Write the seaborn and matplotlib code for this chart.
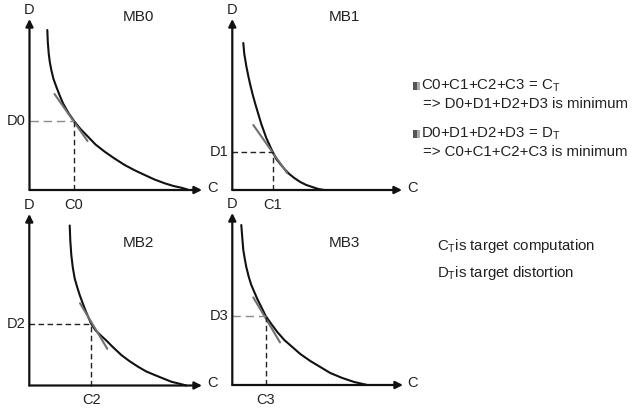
import matplotlib
matplotlib.use("Agg")
import matplotlib.pyplot as plt
from matplotlib.patches import Rectangle
import seaborn as sns
import pandas as pd

sns.set_theme(style="white")
plt.rcParams["font.family"] = ["Liberation Sans", "DejaVu Sans"]
plt.rcParams["mathtext.fontset"] = "custom"
plt.rcParams["mathtext.rm"] = "Liberation Sans"
plt.rcParams["mathtext.it"] = "Liberation Sans:italic"

# ---------------- data ----------------
panels = ["MB0", "MB1", "MB2", "MB3"]

mb0_c = [17.8, 18.3, 19.2, 20.3, 21.8, 24, 26.8, 30, 33.5, 39, 44.5, 51, 58.5, 66,
         75.2, 85, 95.2, 105, 115.2, 125, 135.2, 144, 151.8, 158]
mb0_d = [160, 148, 136.7, 128, 120, 111, 103.3, 95, 86.7, 77, 69, 61, 53.3, 45.5,
         38.3, 31.5, 25, 19.8, 15, 10.5, 6.7, 4, 2.3, 0.5]

mb1_c = [11, 12, 14, 16, 18, 20.5, 23, 26, 29, 34, 40.4, 44, 48, 53, 57, 62, 68, 74, 80, 86, 92]
mb1_d = [147, 136, 124, 114, 105, 95, 86, 76, 66, 52, 38, 31, 26, 20, 16, 12, 8, 5, 3, 1, 0]

mb2_c = [40.4, 41, 42, 43.5, 45.4, 48, 50.4, 53.5, 57, 62, 66, 71, 77, 84, 92, 100,
         108.7, 117, 125.4, 134, 142, 150, 157]
mb2_d = [160, 145, 130.5, 118, 107, 98, 90.5, 82, 73, 61.5, 55.5, 50.5, 45, 38, 30.5,
         24.5, 18.8, 14, 10.5, 7, 3.8, 1.8, 0]

mb3_c = [9, 10, 11, 12.5, 14, 16.5, 19, 22, 25, 29, 33.4, 39, 45, 52, 60, 68, 78, 88, 98, 110, 122, 135]
mb3_d = [160, 147, 135, 126, 118, 108, 100, 93, 86, 78, 69, 61, 53, 45, 38, 31, 24, 18, 12, 7, 3, 0]

curves_c = [mb0_c, mb1_c, mb2_c, mb3_c]
curves_d = [mb0_d, mb1_d, mb2_d, mb3_d]

# operating points (C_i, D_i) and tangent segments
op_c = [44.5, 40.4, 62, 33.4]
op_d = [69, 38, 61.5, 69]
tan_c = [[25, 58], [21, 55], [50.7, 78], [21, 47.7]]
tan_d = [[96, 49], [65, 16.7], [82.3, 36.7], [87.6, 42.6]]

c_labels = ["C0", "C1", "C2", "C3"]
d_labels = ["D0", "D1", "D2", "D3"]

notes = [
    "C0+C1+C2+C3 = C$_\\mathrm{T}$",
    "=> D0+D1+D2+D3 is minimum",
    "D0+D1+D2+D3 = D$_\\mathrm{T}$",
    "=> C0+C1+C2+C3 is minimum",
]
defs = ["C$_\\mathrm{T}$is target computation", "D$_\\mathrm{T}$is target distortion"]

# ---------------- layout (pixels) ----------------
W, H = 632, 411
fig = plt.figure(figsize=(W / 100, H / 100), dpi=100)

# origin x, origin y, arrow tip x, arrow tip y
geom = [(29.5, 190, 202, 19), (232.3, 190, 402, 19),
        (29.3, 385.5, 202, 214), (232.3, 385, 403, 213)]
title_pos = [(138, 17), (344, 17), (138, 243), (344, 243)]
h_dash_col = ["#8a8a8a", "#222222", "#222222", "#8a8a8a"]
h_dash = [(6, 3.5), (4, 2.5), (4, 2.5), (6, 3.5)]

txtc = "#222222"
fs = 10.5

for i in range(4):
    ox, oy, tx, ty = geom[i]
    ax = fig.add_axes([ox / W, 1 - oy / H, (tx - ox) / W, (oy - ty) / H])
    ax.set_xlim(0, tx - ox)
    ax.set_ylim(0, oy - ty)
    ax.set_axis_off()

    df = pd.DataFrame({"C": curves_c[i], "D": curves_d[i]})
    sns.lineplot(data=df, x="C", y="D", ax=ax, sort=False, estimator=None,
                 color="#111111", lw=1.5, clip_on=False)
    tdf = pd.DataFrame({"C": tan_c[i], "D": tan_d[i]})
    sns.lineplot(data=tdf, x="C", y="D", ax=ax, sort=False, estimator=None,
                 color="#707070", lw=1.5, clip_on=False)

    # dashed guides
    ax.plot([0, op_c[i]], [op_d[i], op_d[i]], color=h_dash_col[i], lw=1.0,
            dashes=h_dash[i], clip_on=False)
    ax.plot([op_c[i], op_c[i]], [0, op_d[i]], color="#222222", lw=1.0,
            dashes=(4, 2.5), clip_on=False)

    # axes arrows
    ap = dict(arrowstyle="-|>", lw=1.6, color="#111111", mutation_scale=11,
              shrinkA=0, shrinkB=0)
    ax.annotate("", xy=(1, 0), xytext=(0, 0), xycoords="axes fraction",
                textcoords="axes fraction", arrowprops=ap)
    ax.annotate("", xy=(0, 1), xytext=(0, 0), xycoords="axes fraction",
                textcoords="axes fraction", arrowprops=ap)

    # labels
    fig.text(ox / W, 1 - (ty - 9) / H, "D", ha="center", va="center",
             fontsize=fs, color=txtc)
    fig.text((tx + 10) / W, 1 - (oy - 2.5) / H, "C", ha="center", va="center",
             fontsize=fs, color=txtc)
    fig.text((ox - 3.5) / W, 1 - (oy - op_d[i]) / H, d_labels[i], ha="right",
             va="center", fontsize=fs, color=txtc)
    fig.text((ox + op_c[i]) / W, 1 - (oy + 14.5) / H, c_labels[i], ha="center",
             va="center", fontsize=fs, color=txtc)
    fig.text(title_pos[i][0] / W, 1 - title_pos[i][1] / H, panels[i],
             ha="center", va="center", fontsize=11, color=txtc)

# right-hand notes
note_y = [86, 104, 134, 152]
nfs = 10.8
for j, s in enumerate(notes):
    x = 421 if j % 2 == 0 else 423
    fig.text(x / W, 1 - note_y[j] / H, s, ha="left", va="center",
             fontsize=nfs, color=txtc)
for yb in (note_y[0], note_y[2]):
    fig.patches.append(Rectangle((413 / W, 1 - (yb + 4) / H), 4 / W, 8 / H,
                                 transform=fig.transFigure, color="#555555", lw=0))
    fig.patches.append(Rectangle((417 / W, 1 - (yb + 4) / H), 3 / W, 8 / H,
                                 transform=fig.transFigure, color="#aaaaaa", lw=0))

def_y = [246, 273]
for j, s in enumerate(defs):
    fig.text(437 / W, 1 - def_y[j] / H, s, ha="left", va="center",
             fontsize=nfs, color=txtc)

fig.savefig("out.png", dpi=100)
